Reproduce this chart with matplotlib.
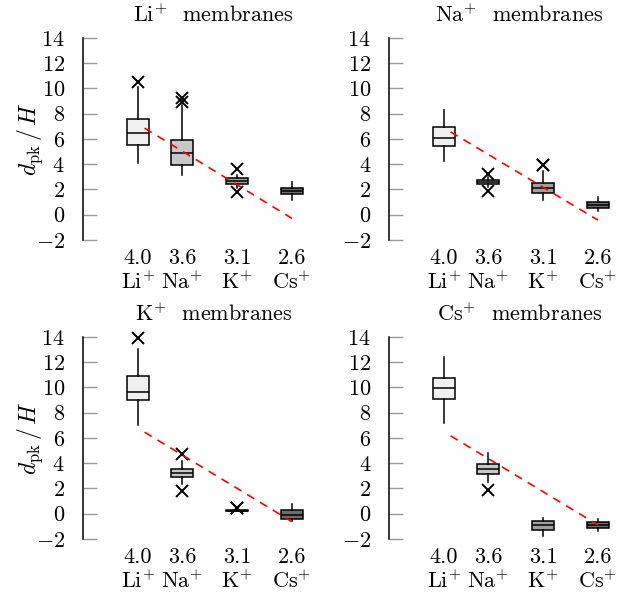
import matplotlib
matplotlib.use("Agg")
import matplotlib.pyplot as plt

plt.rcParams['font.family'] = 'serif'
plt.rcParams['font.serif'] = ['cmr10']
plt.rcParams['mathtext.fontset'] = 'cm'
plt.rcParams['axes.unicode_minus'] = False

# ion radius (x position) and names
radius = [4.0, 3.6, 3.1, 2.6]
ions = ['Li', 'Na', 'K', 'Cs']
box_colors = ['#f0f0f0', '#c8c8c8', '#a0a0a0', '#6e6e6e']

panels = ['Li', 'Na', 'K', 'Cs']

# box statistics per panel, one value per ion (Li, Na, K, Cs)
q1 = {
    'Li': [5.52, 3.94, 2.41, 1.62],
    'Na': [5.42, 2.41, 1.70, 0.57],
    'K':  [9.00, 2.91, 0.20, -0.44],
    'Cs': [9.12, 3.13, -1.27, -1.11],
}
med = {
    'Li': [6.45, 4.87, 2.65, 1.88],
    'Na': [6.11, 2.57, 2.09, 0.80],
    'K':  [9.61, 3.20, 0.24, -0.10],
    'Cs': [9.97, 3.52, -0.93, -0.88],
}
q3 = {
    'Li': [7.57, 5.92, 2.89, 2.09],
    'Na': [6.96, 2.73, 2.52, 1.02],
    'K':  [10.87, 3.52, 0.28, 0.27],
    'Cs': [10.76, 3.97, -0.61, -0.67],
}
whislo = {
    'Li': [4.08, 3.15, 2.14, 1.17],
    'Na': [4.26, 2.20, 1.17, 0.33],
    'K':  [7.04, 2.33, 0.18, -0.57],
    'Cs': [7.20, 2.50, -1.76, -1.40],
}
whishi = {
    'Li': [10.11, 8.69, 3.15, 2.62],
    'Na': [8.33, 3.00, 3.49, 1.41],
    'K':  [13.03, 4.18, 0.30, 0.75],
    'Cs': [12.39, 4.80, -0.32, -0.40],
}
fliers = {
    'Li': [[10.53], [9.22, 8.95], [3.62, 1.83], []],
    'Na': [[], [3.23, 1.90], [3.94, 3.90], []],
    'K':  [[13.90], [4.71, 1.80], [0.48, 0.45], []],
    'Cs': [[], [1.84], [], []],
}

# dashed red trend line endpoints
trend_x = [3.94, 2.6]
trend_y = {
    'Li': [6.86, -0.29],
    'Na': [6.56, -0.43],
    'K':  [6.46, -0.63],
    'Cs': [6.17, -0.89],
}

yticks = [-2, 0, 2, 4, 6, 8, 10, 12, 14]
xlabels = ['4.0\nLi$^{+}$', '3.6\nNa$^{+}$', '3.1\nK$^{+}$', '2.6\nCs$^{+}$']

fig = plt.figure(figsize=(6.31, 5.98), dpi=100)
axes_pos = {
    'Li': [0.1315, 0.5987, 0.366, 0.3378],
    'Na': [0.6165, 0.5987, 0.366, 0.3378],
    'K':  [0.1315, 0.0987, 0.366, 0.3378],
    'Cs': [0.6165, 0.0987, 0.366, 0.3378],
}

for p in panels:
    ax = fig.add_axes(axes_pos[p])
    stats = []
    for i in range(4):
        stats.append({
            'q1': q1[p][i], 'med': med[p][i], 'q3': q3[p][i],
            'whislo': whislo[p][i], 'whishi': whishi[p][i],
            'fliers': fliers[p][i],
        })
    bp = ax.bxp(stats, positions=radius, widths=0.2, patch_artist=True,
                showcaps=False, manage_ticks=False,
                boxprops=dict(edgecolor='black', linewidth=1.1),
                medianprops=dict(color='black', linewidth=1.1),
                whiskerprops=dict(color='black', linewidth=1.1),
                flierprops=dict(marker='x', markersize=9, markeredgecolor='black',
                                markeredgewidth=1.4, linestyle='none'))
    for patch, c in zip(bp['boxes'], box_colors):
        patch.set_facecolor(c)
    for fl in bp['fliers']:
        fl.set_clip_on(False)

    ax.plot(trend_x, trend_y[p], color='red', linestyle=(0, (5, 4)), linewidth=1.2, zorder=5)

    ax.set_xlim(4.5, 2.4)
    ax.set_ylim(-2, 14)
    ax.set_yticks(yticks)
    ax.set_yticklabels(['$%d$' % t for t in yticks])
    ax.set_xticks(radius)
    ax.set_xticklabels(xlabels, linespacing=1.15)
    for s in ['top', 'right', 'bottom']:
        ax.spines[s].set_visible(False)
    ax.spines['left'].set_linewidth(1.1)
    ax.tick_params(axis='y', direction='in', length=10, width=1.0, color='#999999',
                   labelsize=16, pad=13)
    ax.tick_params(axis='x', length=0, labelsize=16, pad=6)
    ax.text(0.565, 1.115, p + r'$^{+}$  membranes', transform=ax.transAxes,
            ha='center', va='center', fontsize=16)
    if p in ('Li', 'K'):
        ax.set_ylabel(r'$d_{\mathrm{pk}}\,/\,H$', fontsize=17)
        ax.yaxis.set_label_coords(-0.165, 0.5)

fig.savefig('out.png', dpi=100)
